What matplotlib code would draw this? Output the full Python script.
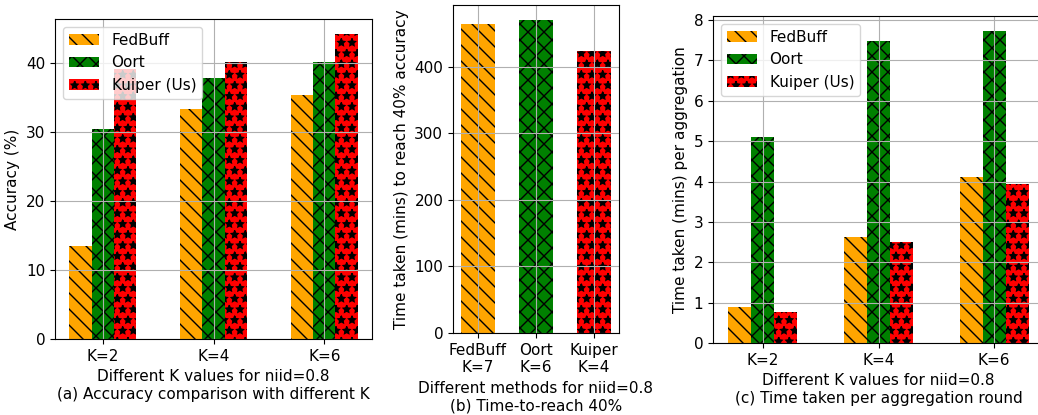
import matplotlib
matplotlib.use("Agg")
import matplotlib.pyplot as plt
import numpy as np

methods = ["FedBuff", "Oort", "Kuiper (Us)"]
k_labels = ["K=2", "K=4", "K=6"]
accuracy = {
    "FedBuff": [13.5, 33.4, 35.4],
    "Oort": [30.5, 37.8, 40.1],
    "Kuiper (Us)": [39.1, 40.1, 44.2],
}
ttr_labels = ["FedBuff\nK=7", "Oort\nK=6", "Kuiper\nK=4"]
ttr_values = [465, 471, 424]
round_time = {
    "FedBuff": [0.88, 2.63, 4.10],
    "Oort": [5.10, 7.48, 7.72],
    "Kuiper (Us)": [0.76, 2.50, 3.95],
}

colors = ["orange", "green", "red"]
hatches = ["\\\\\\\\", "xxxx", "***"]

DPI = 192
k = 100.0 / DPI  # keep pixel sizes as if drawn at 100 dpi
plt.rcParams.update({
    "font.size": 11 * k,
    "axes.linewidth": 0.8 * k,
    "grid.linewidth": 0.8 * k,
    "xtick.major.size": 3.5 * k,
    "ytick.major.size": 3.5 * k,
    "xtick.major.width": 0.8 * k,
    "ytick.major.width": 0.8 * k,
    "xtick.major.pad": 3.5 * k,
    "ytick.major.pad": 3.5 * k,
    "axes.labelpad": 4.0 * k,
    "patch.linewidth": 1.0 * k,
    "hatch.linewidth": 1.0 * k,
})

W, H = 1038, 415
fig = plt.figure(figsize=(W / DPI, H / DPI), dpi=DPI)
def ax_at(l, r, t, b):
    return fig.add_axes([l / W, 1 - b / H, (r - l) / W, (b - t) / H])

x = np.arange(len(k_labels))
w = 0.2

# (a)
ax1 = ax_at(55, 372, 19, 339)
for i, m in enumerate(methods):
    ax1.bar(x + (i - 1) * w, accuracy[m], w, color=colors[i], hatch=hatches[i], label=m)
ax1.set_xticks(x)
ax1.set_xticklabels(k_labels)
ax1.set_ylim(0, 46.4)
ax1.set_ylabel("Accuracy (%)")
ax1.set_xlabel("Different K values for niid=0.8\n(a) Accuracy comparison with different K")
ax1.grid(True)
ax1.legend(loc="upper left")

# (b)
ax2 = ax_at(453, 619, 5, 333)
xb = np.arange(len(ttr_labels))
for i in range(len(ttr_labels)):
    ax2.bar(xb[i], ttr_values[i], 0.6, color=colors[i], hatch=hatches[i])
ax2.set_xticks(xb)
ax2.set_xticklabels(ttr_labels)
ax2.set_ylim(0, 493)
ax2.set_ylabel("Time taken (mins) to reach 40% accuracy")
ax2.set_xlabel("Different methods for niid=0.8\n(b) Time-to-reach 40%")
ax2.grid(True)

# (c)
ax3 = ax_at(713, 1044, 16, 343)
for i, m in enumerate(methods):
    ax3.bar(x + (i - 1) * w, round_time[m], w, color=colors[i], hatch=hatches[i], label=m)
ax3.set_xticks(x)
ax3.set_xticklabels(k_labels)
ax3.set_ylim(0, 8.1)
ax3.set_ylabel("Time taken (mins) per aggregation")
ax3.set_xlabel("Different K values for niid=0.8\n(c) Time taken per aggregation round")
ax3.grid(True)
ax3.legend(loc="upper left")

fig.savefig("out.png", dpi=DPI)
